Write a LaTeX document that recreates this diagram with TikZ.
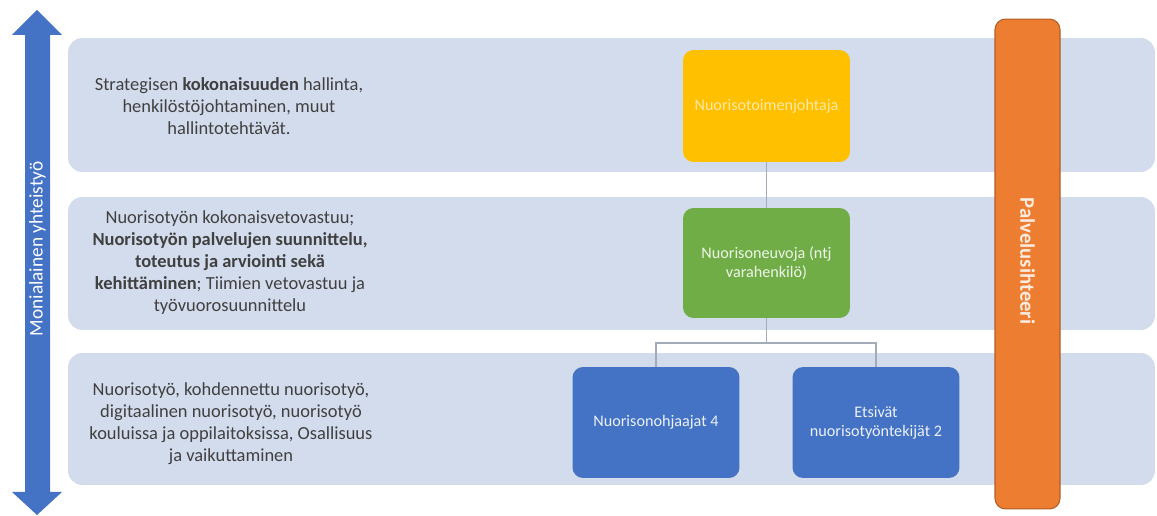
\documentclass[tikz,border=0pt]{standalone}
\usepackage{fontspec}
\setmainfont{Carlito}
\usetikzlibrary{positioning}

\definecolor{tasovari}{HTML}{D3DCEC}
\definecolor{keltainen}{HTML}{FFC000}
\definecolor{vihrea}{HTML}{70AD47}
\definecolor{sininen}{HTML}{4472C4}
\definecolor{oranssi}{HTML}{ED7D31}
\definecolor{tekstiharmaa}{HTML}{404040}
\definecolor{viivavari}{HTML}{A3ABB8}

\begin{document}
\begin{tikzpicture}[x=0.02cm, y=-0.02cm,
    taso/.style    = {fill=tasovari, rounded corners=8pt, minimum width=21.74cm, inner sep=0pt},
    kuvaus/.style  = {align=center, text=tekstiharmaa, font=\fontsize{10.5}{12.5}\selectfont},
    rooli/.style   = {rounded corners=6pt, minimum width=3.34cm, minimum height=2.22cm,
                      align=center, inner sep=2pt, font=\fontsize{9.2}{11}\selectfont},
    yhteys/.style  = {draw=viivavari, line width=0.8pt},
]
\useasboundingbox (0,0) rectangle (1157,516);

% --- Tasot ---
\node[taso, minimum height=2.68cm] (taso1) at (611.5,105) {};
\node[taso, minimum height=2.66cm] (taso2) at (611.5,263.5) {};
\node[taso, minimum height=2.64cm] (taso3) at (611.5,419) {};

% --- Monialainen yhteistyö (nuoli) ---
\fill[sininen] (37,10) -- (62,35) -- (50,35) -- (50,492) -- (62,492) -- (37,515)
    -- (12,492) -- (25,492) -- (25,35) -- (12,35) -- cycle;
\node[rotate=90, text=white, font=\fontsize{11}{13}\selectfont] (yhteistyo) at (37.5,249) {Monialainen yhteistyö};

% --- Tehtävät ---
\node[kuvaus] (kuvaus1) at (229,106) {Strategisen \textbf{kokonaisuuden} hallinta,\\henkilöstöjohtaminen, muut\\hallintotehtävät.};
\node[kuvaus] (kuvaus2) at (230,263) {Nuorisotyön kokonaisvetovastuu;\\\textbf{Nuorisotyön palvelujen suunnittelu,}\\\textbf{toteutus ja arviointi sekä}\\\textbf{kehittäminen}; Tiimien vetovastuu ja\\työvuorosuunnittelu};
\node[kuvaus] (kuvaus3) at (231,424) {Nuorisotyö, kohdennettu nuorisotyö,\\digitaalinen nuorisotyö, nuorisotyö\\kouluissa ja oppilaitoksissa, Osallisuus\\ja vaikuttaminen};

% --- Roolit ---
\node[rooli, fill=keltainen, text=keltainen!35!white, minimum height=2.24cm] (johtaja) at (766.5,106) {Nuorisotoimenjohtaja};
\node[rooli, fill=vihrea, text=vihrea!12!white, minimum height=2.2cm] (neuvoja) at (766.5,263) {Nuorisoneuvoja (ntj\\varahenkilö)};
\node[rooli, fill=sininen, text=sininen!10!white] (ohjaajat) at (656,422.5) {Nuorisonohjaajat 4};
\node[rooli, fill=sininen, text=sininen!10!white] (etsivat) at (876,422.5) {Etsivät\\nuorisotyöntekijät 2};

% --- Palvelusihteeri ---
\node[fill=oranssi, draw=oranssi!75!black, line width=0.6pt, rounded corners=6pt,
      minimum width=1.3cm, minimum height=9.8cm] (sihteeri) at (1027.5,264) {};
\node[rotate=-90, text=oranssi!15!white, font=\fontsize{11.8}{14}\selectfont\bfseries] (sihteeriteksti) at (1027.5,261) {Palvelusihteeri};

% --- Yhteydet ---
\coordinate (haara) at (766.5,343);
\draw[yhteys] (johtaja) -- (neuvoja);
\draw[yhteys] (neuvoja) -- (haara);
\draw[yhteys] (ohjaajat.north) |- (haara) -| (etsivat.north);

\end{tikzpicture}
\end{document}
